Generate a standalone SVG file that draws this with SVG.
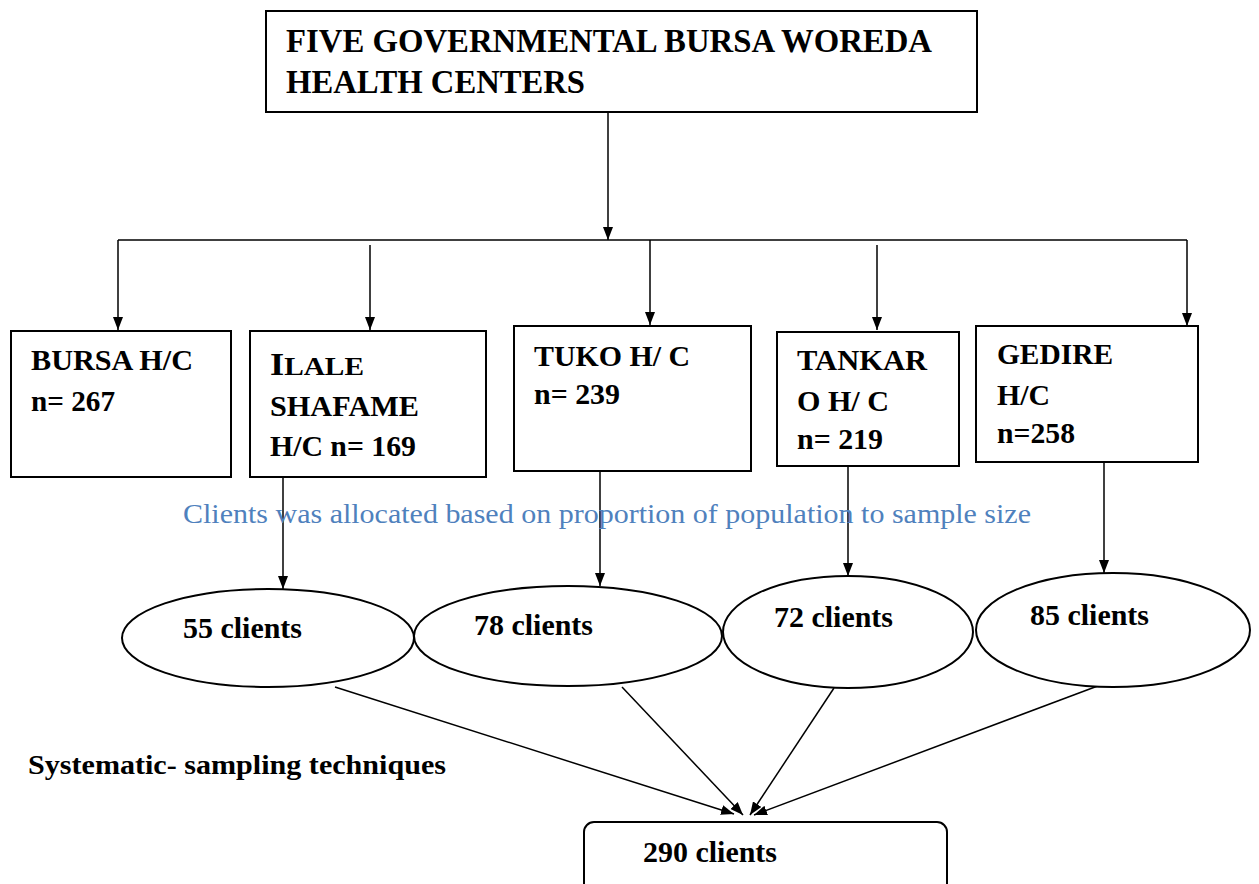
<svg xmlns="http://www.w3.org/2000/svg" width="1259" height="884" viewBox="0 0 1259 884">
<defs>
<marker id="ah" viewBox="0 0 13 10" refX="13" refY="5" markerWidth="13" markerHeight="10" markerUnits="userSpaceOnUse" orient="auto">
<path d="M0,0 L13,5 L0,10 Z" fill="#000"/>
</marker>
</defs>
<style>
.box{fill:#fff;stroke:#000;stroke-width:2}
.t{font-family:"Liberation Serif","Times New Roman",serif;font-weight:bold;fill:#000}
.c{stroke:#000;stroke-width:1.5;fill:none}
.a{stroke:#000;stroke-width:1.5;fill:none;marker-end:url(#ah)}
</style>
<rect width="1259" height="884" fill="#fff"/>
<g id="connectors">
<line class="a" x1="608" y1="112" x2="608" y2="240"/>
<line class="c" x1="118" y1="240" x2="1187" y2="240"/>
<line class="a" x1="118" y1="240" x2="118" y2="330"/>
<line class="a" x1="370" y1="245" x2="370" y2="330"/>
<line class="a" x1="650" y1="240" x2="650" y2="325"/>
<line class="a" x1="877" y1="245" x2="877" y2="330"/>
<line class="a" x1="1187" y1="240" x2="1187" y2="326"/>
<line class="a" x1="283" y1="477" x2="283" y2="589"/>
<line class="a" x1="600" y1="466" x2="600" y2="586"/>
<line class="a" x1="848" y1="466" x2="848" y2="576"/>
<line class="a" x1="1104" y1="462" x2="1104" y2="573"/>
<line class="a" x1="335" y1="687" x2="734" y2="814"/>
<line class="a" x1="622" y1="687" x2="743" y2="815"/>
<line class="a" x1="834" y1="688" x2="750" y2="815"/>
<line class="a" x1="1103" y1="684" x2="754" y2="815"/>
</g>
<g id="top">
<rect class="box" x="266" y="11" width="711" height="101"/>
<text class="t" x="286" y="52" font-size="33" textLength="646" lengthAdjust="spacingAndGlyphs">FIVE GOVERNMENTAL BURSA WOREDA</text>
<text class="t" x="286" y="93" font-size="33" textLength="299" lengthAdjust="spacingAndGlyphs">HEALTH CENTERS</text>
</g>
<g id="bursa">
<rect class="box" x="11" y="331" width="220" height="146"/>
<text class="t" x="31" y="370" font-size="30" textLength="162" lengthAdjust="spacingAndGlyphs">BURSA H/C</text>
<text class="t" x="31" y="411" font-size="30" textLength="84" lengthAdjust="spacingAndGlyphs">n= 267</text>
</g>
<g id="ilale">
<rect class="box" x="250" y="331" width="236" height="146"/>
<text class="t" x="270" y="375" font-size="31" textLength="94" lengthAdjust="spacingAndGlyphs">I<tspan font-size="25">LALE</tspan></text>
<text class="t" x="270" y="416" font-size="30" textLength="149" lengthAdjust="spacingAndGlyphs">SHAFAME</text>
<text class="t" x="270" y="456" font-size="30" textLength="146" lengthAdjust="spacingAndGlyphs">H/C n= 169</text>
</g>
<g id="tuko">
<rect class="box" x="514" y="326" width="237" height="145"/>
<text class="t" x="534" y="366" font-size="30" textLength="156" lengthAdjust="spacingAndGlyphs">TUKO H/ C</text>
<text class="t" x="534" y="404" font-size="30" textLength="86" lengthAdjust="spacingAndGlyphs">n= 239</text>
</g>
<g id="tankaro">
<rect class="box" x="777" y="332" width="182" height="134"/>
<text class="t" x="797" y="370" font-size="30" textLength="130" lengthAdjust="spacingAndGlyphs">TANKAR</text>
<text class="t" x="797" y="411" font-size="30" textLength="92" lengthAdjust="spacingAndGlyphs">O H/ C</text>
<text class="t" x="797" y="449" font-size="30" textLength="86" lengthAdjust="spacingAndGlyphs">n= 219</text>
</g>
<g id="gedire">
<rect class="box" x="976" y="326" width="222" height="136"/>
<text class="t" x="997" y="364" font-size="30" textLength="116" lengthAdjust="spacingAndGlyphs">GEDIRE</text>
<text class="t" x="997" y="405" font-size="30" textLength="53" lengthAdjust="spacingAndGlyphs">H/C</text>
<text class="t" x="997" y="443" font-size="30" textLength="78" lengthAdjust="spacingAndGlyphs">n=258</text>
</g>
<text x="183" y="523" font-family="'Liberation Serif','Times New Roman',serif" font-size="27" fill="#4f81bd" textLength="848" lengthAdjust="spacingAndGlyphs">Clients was allocated based on proportion of population to sample size</text>
<g id="e55">
<ellipse class="box" cx="268" cy="638" rx="146" ry="49"/>
<text class="t" x="183" y="638" font-size="29" textLength="119" lengthAdjust="spacingAndGlyphs">55 clients</text>
</g>
<g id="e78">
<ellipse class="box" cx="568" cy="636" rx="154" ry="50"/>
<text class="t" x="474" y="635" font-size="29" textLength="119" lengthAdjust="spacingAndGlyphs">78 clients</text>
</g>
<g id="e72">
<ellipse class="box" cx="848" cy="632" rx="125" ry="56"/>
<text class="t" x="774" y="627" font-size="29" textLength="119" lengthAdjust="spacingAndGlyphs">72 clients</text>
</g>
<g id="e85">
<ellipse class="box" cx="1113" cy="630" rx="137" ry="57"/>
<text class="t" x="1030" y="625" font-size="29" textLength="119" lengthAdjust="spacingAndGlyphs">85 clients</text>
</g>
<text class="t" x="28" y="774" font-size="28" textLength="418" lengthAdjust="spacingAndGlyphs">Systematic- sampling techniques</text>
<g id="total">
<rect class="box" x="584" y="822" width="363" height="80" rx="10"/>
<text class="t" x="643" y="862" font-size="29" textLength="134" lengthAdjust="spacingAndGlyphs">290 clients</text>
</g>
</svg>
